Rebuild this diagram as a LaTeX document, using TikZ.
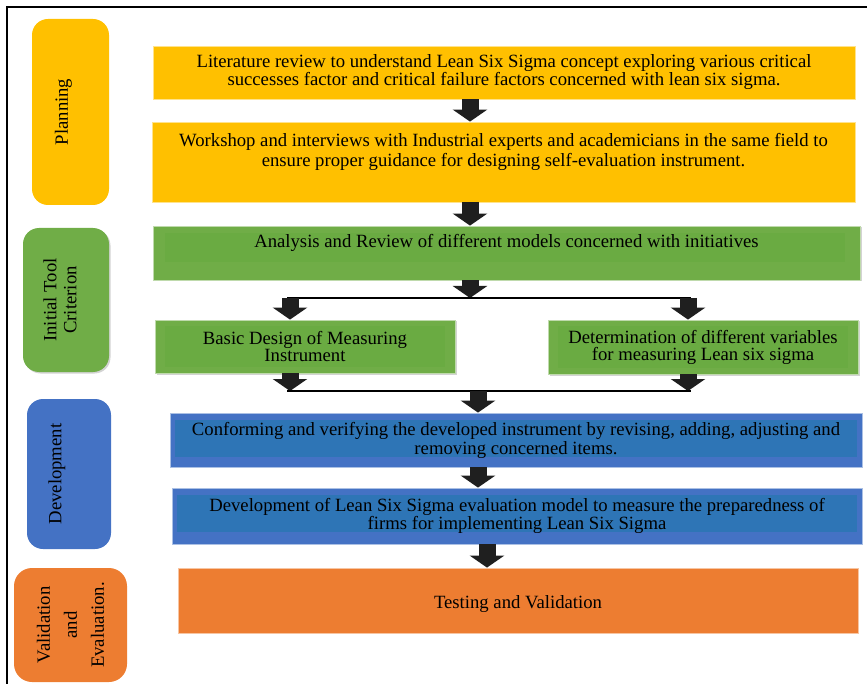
\documentclass[tikz,border=0pt]{standalone}
\usepackage{fontspec}
\setmainfont{Liberation Serif}
\usetikzlibrary{arrows.meta,positioning,shadows}
\definecolor{planyellow}{RGB}{255,192,0}
\definecolor{toolgreen}{RGB}{112,173,71}
\definecolor{toolgreenin}{RGB}{106,171,66}
\definecolor{devblue}{RGB}{68,114,196}
\definecolor{devbluein}{RGB}{46,117,182}
\definecolor{valorange}{RGB}{237,125,49}
\tikzset{
  % one unit = one pixel of the reference, y runs downwards
  x=1pt, y=-1pt,
  every node/.append style={font=\fontsize{18.7}{18}\selectfont},
  % phase boxes on the left
  phase/.style={rounded corners=16pt, inner sep=0pt, rotate=90, align=center},
  % step boxes
  stepbox/.style={inner sep=0pt, align=center, draw=white!55!#1, line width=0.8pt, fill=#1},
  % lighter/darker panel inside a step box
  inbox/.style args={#1/#2/#3/#4/#5}{path picture={
      \fill[#1] ([shift={(#2pt,-#3pt)}]path picture bounding box.north west)
        rectangle ([shift={(-#4pt,#5pt)}]path picture bounding box.south east);}},
  shade/.style={drop shadow={shadow xshift=1.5pt, shadow yshift=-1.5pt, opacity=.35}},
  txt/.style={inner sep=0pt, align=center},
  % block arrows
  blkarr/.style={-{Triangle[width=34pt,length=12pt]}, line width=17pt, black!88},
  joint/.style={line width=1.5pt, black},
}
\begin{document}
\begin{tikzpicture}
  \useasboundingbox (0,0) rectangle (867,684);
  % frame
  \draw[line width=1.5pt] (7,684) -- (7,7) -- (867,7);

  % phases
  \node[phase, fill=planyellow, minimum width=186pt, minimum height=77pt] (plan) at (70.5,112) {};
  \node[txt, rotate=90] (plantxt) at ([xshift=-7pt]plan.center) {Planning};
  \node[phase, fill=toolgreen, shade, minimum width=144pt, minimum height=86pt] (crit) at (66,300) {};
  \node[txt, rotate=90, font=\fontsize{18.7}{20}\selectfont] (crittxt) at ([xshift=-6pt]crit.center) {Initial Tool\\Criterion};
  \node[phase, fill=devblue, minimum width=150pt, minimum height=84pt] (devl) at (69,474) {};
  \node[txt, rotate=90] (devltxt) at ([xshift=-12pt]devl.center) {Development};
  \node[phase, fill=valorange, rounded corners=18pt, minimum width=114pt, minimum height=113pt,
        font=\fontsize{18.7}{27}\selectfont] (valid) at (70.5,625) {Validation\\and\\Evaluation.};

  % planning steps
  \node[stepbox=planyellow, minimum width=702pt, minimum height=53pt] (lit) at (504,72.5)
    {Literature review to understand Lean Six Sigma concept exploring various critical\\
     successes factor and critical failure factors concerned with lean six sigma.};
  \node[stepbox=planyellow, minimum width=703pt, minimum height=80pt] (work) at (503.5,162) {};
  \node[txt, font=\fontsize{18.7}{20}\selectfont, below=12pt of work.north] (worktxt)
    {Workshop and interviews with Industrial experts and academicians in the same field to\\
     ensure proper guidance for designing self-evaluation instrument.};

  % initial tool steps
  \node[stepbox=toolgreen, shade, inbox=toolgreenin/12/7/15/18, minimum width=707pt, minimum height=54pt] (anal) at (506.5,253) {};
  \node[txt, below=9pt of anal.north] (analtxt) {Analysis and Review of different models concerned with initiatives};
  \node[stepbox=toolgreen, shade, inbox=toolgreenin/10/6/10/6, minimum width=300pt, minimum height=53pt,
        font=\fontsize{18.7}{17}\selectfont] (basic) at (305,346.5) {Basic Design of Measuring\\Instrument};
  \node[stepbox=toolgreen, shade, inbox=toolgreenin/10/6/10/6, minimum width=310pt, minimum height=54pt,
        font=\fontsize{18.7}{17}\selectfont] (vars) at (703,347) {Determination of different variables\\for measuring Lean six sigma};

  % development steps
  \node[stepbox=devblue, inbox=devbluein/5/7/5/10, minimum width=692pt, minimum height=54pt,
        font=\fontsize{18.7}{19}\selectfont] (conf) at (516,440)
    {Conforming and verifying the developed instrument by revising, adding, adjusting and\\
     removing concerned items.};
  \node[stepbox=devblue, inbox=devbluein/5/7/5/12, minimum width=690pt, minimum height=56pt] (model) at (517,516)
    {Development of Lean Six Sigma evaluation model to measure the preparedness of\\
     firms for implementing Lean Six Sigma};

  % validation step
  \node[stepbox=valorange, minimum width=680pt, minimum height=65pt] (test) at (518,600.5) {};
  \node[txt] (testtxt) at ([yshift=-4pt]test.center) {Testing and Validation};

  % arrow columns and joints
  \coordinate (ax) at (470,0);
  \coordinate (cx) at (478,0);
  \coordinate (tx) at (487,0);
  \coordinate (spl) at (290,298);
  \coordinate (spr) at (688,298);
  \coordinate (mgl) at (290,391);
  \coordinate (mgr) at (688,391);

  \draw[blkarr] (lit.south -| ax) -- (work.north -| ax);
  \draw[blkarr] (work.south -| ax) -- (anal.north -| ax);
  \draw[blkarr] (anal.south -| ax) -- (spl -| ax);
  \draw[joint] ([xshift=-3pt]spl) -- ([xshift=3pt]spr);
  \draw[blkarr] (spl) -- (basic.north -| spl);
  \draw[blkarr] (spr) -- (vars.north -| spr);
  \draw[blkarr] (basic.south -| mgl) -- (mgl);
  \draw[blkarr] (vars.south -| mgr) -- (mgr);
  \draw[joint] ([xshift=-3pt]mgl) -- ([xshift=3pt]mgr);
  \draw[blkarr] (mgl -| cx) -- (conf.north -| cx);
  \draw[blkarr] (conf.south -| cx) -- (model.north -| cx);
  \draw[blkarr] (model.south -| tx) -- (test.north -| tx);
\end{tikzpicture}
\end{document}
